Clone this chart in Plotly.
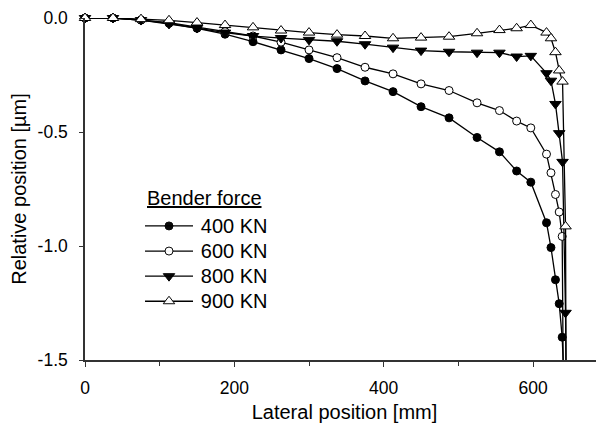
import plotly.graph_objects as go

# Lateral positions [mm]
x_base = [0, 37.5, 75, 112.5, 150, 187.5, 225, 262.5, 300, 337.5, 375, 412.5,
          450, 487.5, 525, 555, 578, 597, 618, 624, 630, 635]
x_circ = x_base + [639, 643.5]
x_tri = x_base + [639.5, 643.5, 646]

# Relative position [um]
y_400 = [0, 0, -0.009, -0.023, -0.045, -0.071, -0.104, -0.14, -0.178, -0.222, -0.276, -0.323,
         -0.389, -0.438, -0.524, -0.587, -0.671, -0.72, -0.898, -1.007, -1.148, -1.253, -1.40, -1.75]
y_600 = [0, 0, -0.009, -0.02, -0.04, -0.06, -0.079, -0.106, -0.14, -0.174, -0.216, -0.245,
         -0.289, -0.318, -0.372, -0.406, -0.452, -0.482, -0.597, -0.679, -0.774, -0.851, -0.958, -2.9]
y_800 = [0, 0, -0.009, -0.026, -0.044, -0.064, -0.079, -0.088, -0.096, -0.102, -0.115, -0.13,
         -0.143, -0.148, -0.152, -0.152, -0.169, -0.166, -0.242, -0.275, -0.377, -0.505, -0.631, -1.293, -2.2]
y_900 = [0, 0, -0.005, -0.01, -0.02, -0.031, -0.041, -0.055, -0.064, -0.073, -0.079, -0.089,
         -0.086, -0.082, -0.067, -0.053, -0.045, -0.031, -0.064, -0.089, -0.15, -0.23, -0.279, -0.914, -3.5]

series_names = ["400 KN", "600 KN", "800 KN", "900 KN"]
legend_title = "Bender force"
x_ticks = [0, 200, 400, 600]
y_ticks = [0, -0.5, -1.0, -1.5]
y_ticktext = ["0.0", "-0.5", "-1.0", "-1.5"]

FONT = "Liberation Sans, Arial, sans-serif"

styles = [
    dict(symbol="circle", color="black", size=8),
    dict(symbol="circle", color="white", size=8),
    dict(symbol="triangle-down", color="black", size=10),
    dict(symbol="triangle-up", color="white", size=10),
]
data = [(x_circ, y_400), (x_circ, y_600), (x_tri, y_800), (x_tri, y_900)]

fig = go.Figure()
for name, (xs, ys), st in zip(series_names, data, styles):
    # last point of each series lies below the axis (only the line continues there)
    opac = [1] * (len(ys) - 1) + [0]
    fig.add_trace(go.Scatter(
        x=xs, y=ys,
        name='<span style="font-size:10px">&nbsp;</span><span style="font-size:20px">%s</span>' % name,
        mode="lines+markers",
        line=dict(color="black", width=1.3),
        marker=dict(symbol=st["symbol"], size=st["size"], color=st["color"],
                    opacity=opac, line=dict(color="black", width=1)),
        cliponaxis=False,
    ))

axis_col = "#333"
# page body has an 8px margin: figure is 8px smaller and left/top margins 8px less
fig.update_layout(
    width=596, height=422,
    margin=dict(l=77, r=0, t=10, b=70),
    paper_bgcolor="white", plot_bgcolor="white",
    font=dict(family=FONT, color="black", size=17.5),
    showlegend=True,
    legend=dict(
        x=0.106, y=0.281, xanchor="left", yanchor="middle",
        bgcolor="rgba(0,0,0,0)",
        font=dict(size=17, family=FONT),
        itemwidth=48, tracegroupgap=0,
    ),
    annotations=[dict(
        text="<u>%s</u>" % legend_title, xref="paper", yref="paper",
        x=0.1156, y=0.4737, xanchor="left", yanchor="middle",
        showarrow=False, font=dict(size=20, family=FONT),
    )],
    xaxis=dict(
        range=[0, 695], tickvals=x_ticks, ticktext=[str(v) for v in x_ticks],
        showgrid=False, zeroline=False, showline=True, linecolor=axis_col, linewidth=1.5,
        ticks="outside", ticklen=5, tickcolor=axis_col, tickwidth=1.2,
        minor=dict(dtick=100, tick0=0, ticks="outside", ticklen=4, tickcolor=axis_col, tickwidth=1.2),
        title=dict(text="Lateral position [mm]", font=dict(size=20), standoff=8),
        tickfont=dict(size=17.5), automargin=False, ticklabelstandoff=6,
    ),
    yaxis=dict(
        range=[-1.5, 0], tickvals=y_ticks, ticktext=y_ticktext,
        showgrid=False, zeroline=False, showline=True, linecolor=axis_col, linewidth=1.5,
        ticks="outside", ticklen=4, tickcolor=axis_col, tickwidth=1.2,
        title=dict(text="Relative position [µm]", font=dict(size=20), standoff=8),
        tickfont=dict(size=17.5), automargin=False, ticklabelstandoff=8,
    ),
)

fig.write_html("out.html")
